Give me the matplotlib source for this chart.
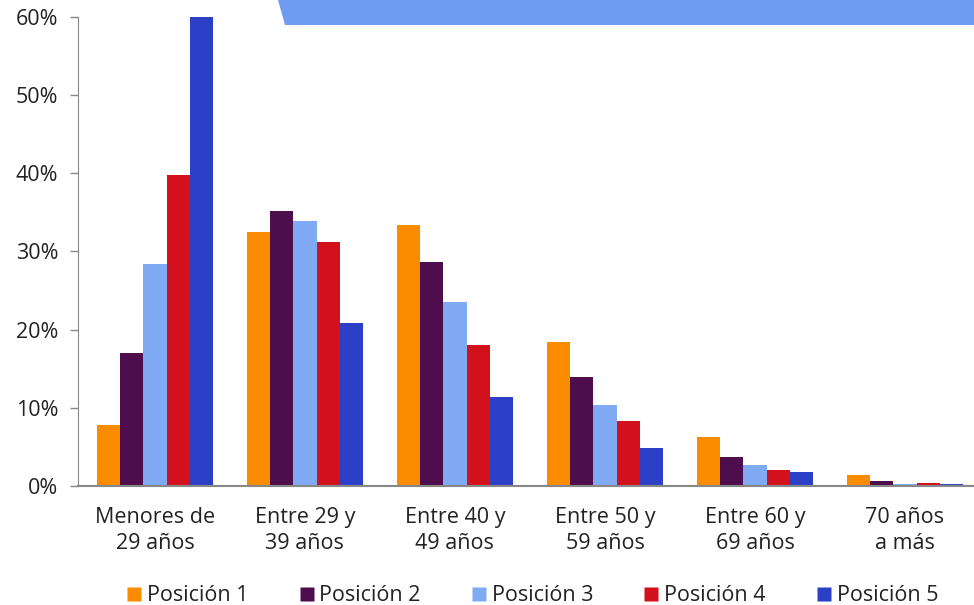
import matplotlib
matplotlib.use("Agg")
import matplotlib.pyplot as plt
import matplotlib.patches as mpatches
from matplotlib.lines import Line2D
import numpy as np

categories = ["Menores de\n29 años", "Entre 29 y\n39 años", "Entre 40 y\n49 años",
              "Entre 50 y\n59 años", "Entre 60 y\n69 años", "70 años\na más"]
series_names = ["Posición 1", "Posición 2", "Posición 3", "Posición 4", "Posición 5"]
pos1 = [7.8, 32.5, 33.4, 18.4, 6.3, 1.4]
pos2 = [17.0, 35.2, 28.6, 13.9, 3.7, 0.6]
pos3 = [28.4, 33.9, 23.5, 10.4, 2.7, 0.25]
pos4 = [39.8, 31.2, 18.0, 8.3, 2.0, 0.35]
pos5 = [60.0, 20.8, 11.4, 4.9, 1.8, 0.25]
yticks = [0, 10, 20, 30, 40, 50, 60]

colors = ["#FB8C00", "#4E0E4E", "#80AAF4", "#D3111C", "#2B40C6"]
series = [pos1, pos2, pos3, pos4, pos5]

plt.rcParams['font.family'] = ['Open Sans', 'DejaVu Sans']
FS = 15.5

fig = plt.figure(figsize=(9.74, 6.05), dpi=100)

# decorative banner at top
banner = mpatches.Polygon([(278/974, 1.0), (1.0, 1.0), (1.0, 1 - 25/605), (285/974, 1 - 25/605)],
                          closed=True, transform=fig.transFigure, facecolor="#6F9CF0",
                          edgecolor="none", zorder=-1)
fig.patches.append(banner)

ax = fig.add_axes([0.080, 0.1967, 0.92, 0.7753])
ax.patch.set_alpha(0)

x = np.arange(len(categories))
w = 0.155
for i, (vals, c) in enumerate(zip(series, colors)):
    ax.bar(x + (i - 2) * w, vals, width=w, color=c, label=series_names[i],
           clip_on=False, linewidth=0)

ax.set_xlim(-0.513, 5.46)
ax.set_ylim(0, 60)
ax.set_yticks(yticks)
ax.set_yticklabels([f"{t}%" for t in yticks], fontsize=FS, color="#222222")
ax.set_xticks(x)
ax.set_xticklabels(categories, fontsize=FS, color="#222222", linespacing=1.35)
ax.tick_params(axis='x', length=0, pad=15)
ax.tick_params(axis='y', length=6, width=1, color="#888888", pad=8)
for s in ["top", "right"]:
    ax.spines[s].set_visible(False)
ax.spines["left"].set_color("#888888")
ax.spines["bottom"].set_color("#888888")
ax.spines["bottom"].set_linewidth(1.5)

handles = [Line2D([0], [0], marker='s', linestyle='none', markersize=10,
                  markerfacecolor=c, markeredgecolor='none') for c in colors]
fig.legend(handles, series_names, loc='center', bbox_to_anchor=(0.545, 0.015),
           ncol=5, frameon=False, fontsize=FS, handletextpad=0.1,
           columnspacing=2.2, handlelength=1.0, labelcolor="#222222")

fig.savefig("out.png", dpi=100)
